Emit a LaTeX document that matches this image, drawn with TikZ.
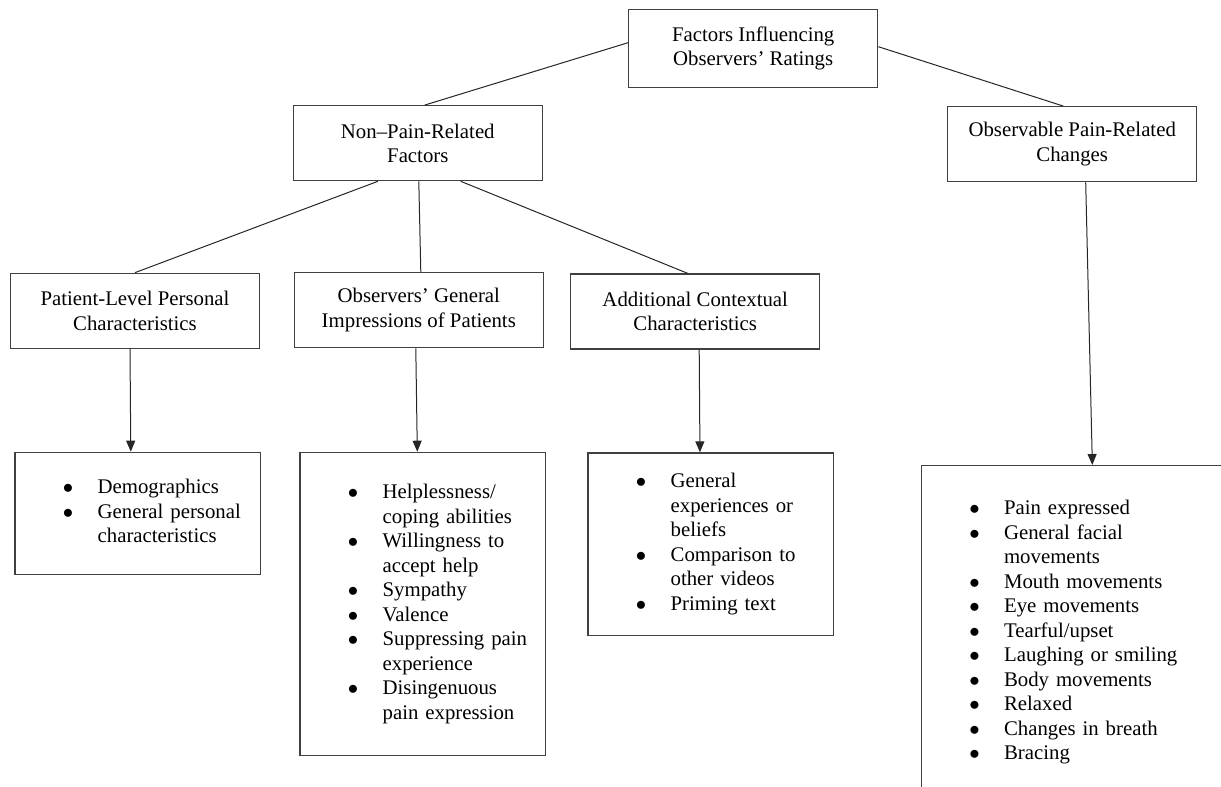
\documentclass[tikz,border=0pt]{standalone}
\usepackage{fontspec}
\setmainfont{Liberation Serif}
\usetikzlibrary{arrows.meta}
\newcommand{\itemlist}[1]{\begin{tabular}{@{\hspace{48pt}}p{34.7pt}@{}l@{}}#1\end{tabular}}
\newcommand{\bul}{$\bullet$}
\begin{document}
\begin{tikzpicture}[x=1pt,y=-1pt,
    font=\fontsize{20.8}{24.5}\selectfont,
    headbox/.style={draw=black!75,line width=1.3pt,minimum width=249pt,minimum height=75pt,align=center,inner sep=0pt},
    listbox/.style={draw=black!75,line width=1.3pt,inner sep=0pt,align=left,anchor=north west},
    link/.style={draw=black!85,line width=1pt},
    arrow/.style={link,-{Triangle[length=11pt,width=9pt]}}]
    \clip (0,0) rectangle (1221,787);
    %
    \node[headbox,minimum height=78pt] (factors) at (753.2,48.3) {Factors Influencing\\Observers’ Ratings};
    \node[headbox] (nonpain) at (417.8,143.2) {Non–Pain-Related\\Factors};
    \node[headbox] (observable) at (1072.2,144.2) {Observable Pain-Related\\Changes};
    \node[headbox] (patient) at (135,310.8) {Patient-Level Personal\\Characteristics};
    \node[headbox] (observers) at (418.8,310.2) {Observers’ General\\Impressions of Patients};
    \node[headbox] (additional) at (695.2,311.5) {Additional Contextual\\Characteristics};
    %
    \node[listbox,text width=245.7pt,minimum height=122.3pt] (demobox) at (14.3,451.7)
        {\itemlist{\bul & Demographics\\ \bul & General personal\\ & characteristics}};
    \node[listbox,text width=245.7pt,minimum height=303.3pt] (helpbox) at (299.3,451.7)
        {\itemlist{\bul & Helplessness/\\ & coping abilities\\ \bul & Willingness to\\ & accept help\\
        \bul & Sympathy\\ \bul & Valence\\ \bul & Suppressing pain\\ & experience\\
        \bul & Disingenuous\\ & pain expression}};
    \node[listbox,text width=245.4pt,minimum height=182.7pt] (genbox) at (587.3,452.3)
        {\itemlist{\bul & General\\ & experiences or\\ & beliefs\\ \bul & Comparison to\\
        & other videos\\ \bul & Priming text}};
    \node[listbox,text width=330pt,minimum height=333pt] (painbox) at (920.7,465)
        {\itemlist{\bul & Pain expressed\\ \bul & General facial\\ & movements\\
        \bul & Mouth movements\\ \bul & Eye movements\\ \bul & Tearful/upset\\
        \bul & Laughing or smiling\\ \bul & Body movements\\ \bul & Relaxed\\
        \bul & Changes in breath\\ \bul & Bracing}};
    %
    \draw[link] ([yshift=5.6pt]factors.west) -- ([xshift=7pt]nonpain.north);
    \draw[link] ([yshift=1.6pt]factors.east) -- ([xshift=-9pt]observable.north);
    \draw[link] ([xshift=-40pt]nonpain.south) -- (patient.north);
    \draw[link] ([xshift=1pt]nonpain.south) -- ([xshift=2pt]observers.north);
    \draw[link] ([xshift=43pt]nonpain.south) -- ([xshift=-7.5pt]additional.north);
    %
    \draw[arrow] ([xshift=-5pt]patient.south) -- ([xshift=-7pt]demobox.north);
    \draw[arrow] ([xshift=-3pt]observers.south) -- ([xshift=-5.5pt]helpbox.north);
    \draw[arrow] ([xshift=4pt]additional.south) -- ([xshift=-10.7pt]genbox.north);
    \draw[arrow] ([xshift=13.5pt]observable.south) -- ([xshift=6pt]painbox.north);
\end{tikzpicture}
\end{document}
